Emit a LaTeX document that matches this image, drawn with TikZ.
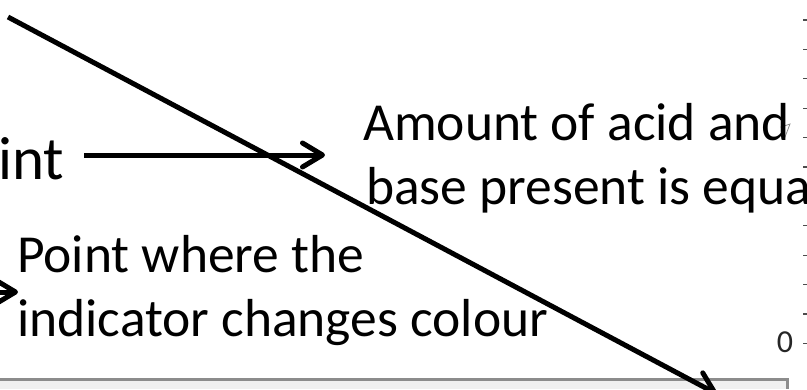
\documentclass[tikz,border=0pt]{standalone}
\usepackage{fontspec}
\setmainfont{Carlito}
\usetikzlibrary{arrows.meta}
\begin{document}
\begin{tikzpicture}[x=1pt,y=-1pt,
  arr/.style={line width=5pt, -{Straight Barb[length=20pt,width=24pt,line cap=round,line join=round]}},
  lbl/.style={anchor=base west, inner sep=0pt, font=\fontsize{53.5}{64}\selectfont},
  axtick/.style={line width=1.3pt, draw=black!70},
  ]
\useasboundingbox (0,0) rectangle (807,389);
\clip (0,0) rectangle (807,389);
% bottom panel edge
\fill[black!6] (0,381) rectangle (786,389);
\draw[black!45, line width=2.5pt] (0,379.5) -- (787.5,379.5) -- (787.5,389);
% axis ticks
\foreach \k in {0,...,11} {
  \draw[axtick] (803,{20+29.4*\k}) -- (807,{20+29.4*\k});
}
\node[anchor=center, inner sep=0pt, text=black!85, font=\fontsize{32}{36}\selectfont] (zero) at (785,342) {0};
% small marker triangle
\draw[black!45, line width=0.8pt] (781,127) -- (790,124) -- (785,137) -- cycle;
% texts
\node[lbl, font=\fontsize{61}{70}\selectfont] (int) at (-2,179) {int};
\node[lbl] (am1) at (363,140) {Amount of acid and};
\node[lbl] (am2) at (366,204) {base present is equa};
\node[lbl] (pt1) at (17,272) {Point where the};
\node[lbl] (pt2) at (17,336) {indicator changes colour};
% connectors
\coordinate (h1) at (84,155);
\coordinate (h2) at (325,155);
\draw[arr] (h1) -- (h2);
\coordinate (l1) at (-80,292);
\coordinate (l2) at (18,292);
\draw[arr] (l1) -- (l2);
\coordinate (d1) at (8,17);
\coordinate (d2) at (717,394);
\draw[arr] (d1) -- (d2);
\end{tikzpicture}
\end{document}
